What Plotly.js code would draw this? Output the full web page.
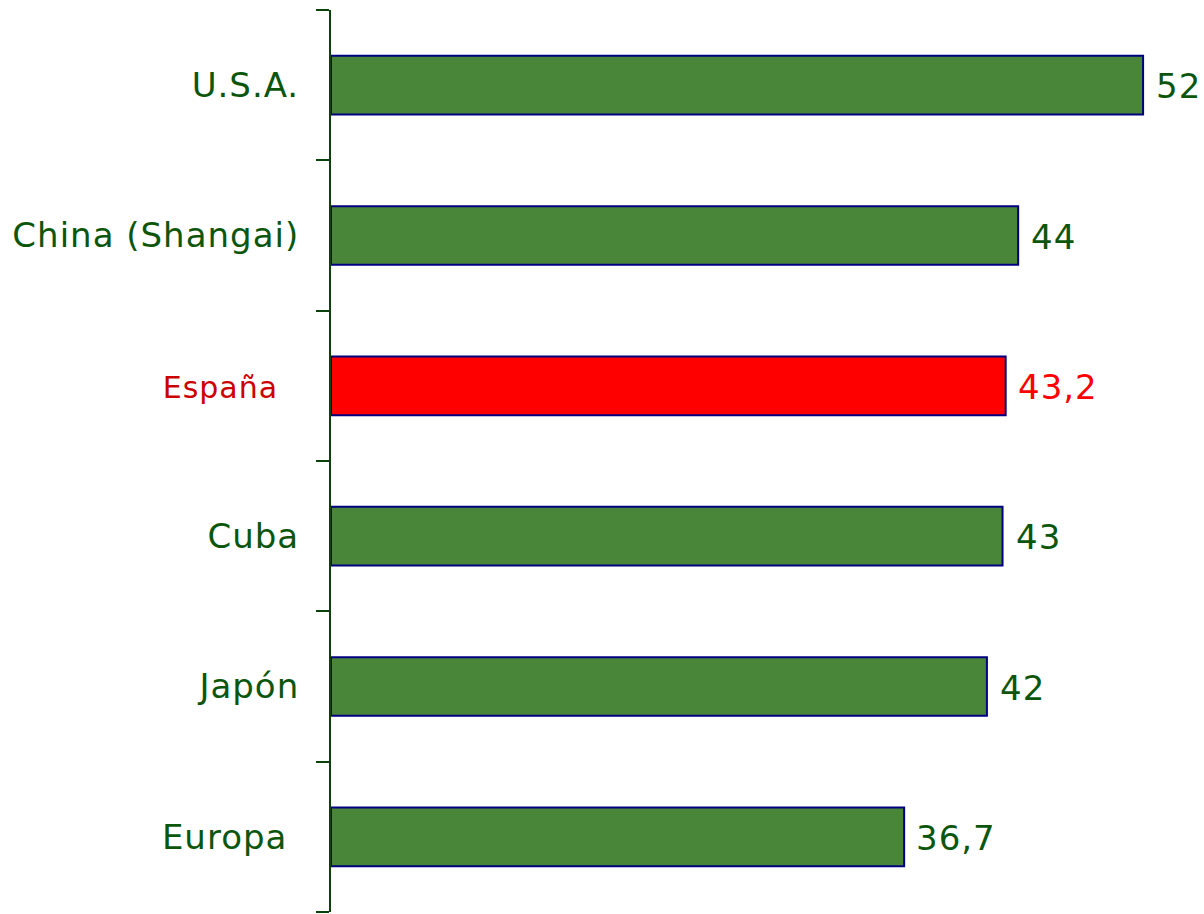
<!DOCTYPE html>
<html>
<head>
<meta charset="utf-8">
<script src="https://cdn.plot.ly/plotly-3.0.1.min.js"></script>
<style>
html,body{margin:0;padding:0;background:#fff;}
#chart{width:1204px;height:914px;}
#chart .ytick text, #chart .annotation-text{letter-spacing:1px;}
</style>
</head>
<body>
<div id="chart"></div>
<script>
var categories = ["U.S.A.", "China (Shangai)", "España", "Cuba", "Japón", "Europa"];
var values = [52, 44, 43.2, 43, 42, 36.7];
var valueLabels = ["52", "44", "43,2", "43", "42", "36,7"];
var highlight = "España";

var green = "#4a8639", red = "#ff0000", textGreen = "#0b560b", axisGreen = "#0a420a";

var fills = categories.map(function(c){ return c === highlight ? red : green; });
var tickText = categories.map(function(c){
  if (c === highlight) return '<span style="color:#cc0000;font-size:30px">' + c + '\u00a0\u00a0</span>';
  if (c === "Europa") return c + '\u00a0';
  return c;
});

var bars = {
  type: "bar", orientation: "h",
  y: categories, x: values,
  width: 0.39,
  marker: {color: fills, line: {color: "#000080", width: 2}},
  hoverinfo: "none"
};

var annotations = categories.map(function(c, i){
  return {
    x: values[i], y: c, xref: "x", yref: "y",
    text: valueLabels[i], showarrow: false,
    xanchor: "left", yanchor: "middle", xshift: 12, yshift: -1,
    font: {family: "DejaVu Sans, Verdana, sans-serif", size: 34, color: c === highlight ? red : textGreen}
  };
});

var layout = {
  width: 1204, height: 914,
  margin: {l: 331, r: 0, t: 10, b: 2},
  paper_bgcolor: "#fff", plot_bgcolor: "#fff",
  showlegend: false,
  bargap: 0.61,
  xaxis: {range: [0, 55.9], visible: false, fixedrange: true},
  yaxis: {
    type: "category", range: [5.5, -0.5],
    tickmode: "array", tickvals: categories, ticktext: tickText,
    tickson: "boundaries", ticks: "outside", ticklen: 13, tickwidth: 2, tickcolor: axisGreen,
    showline: true, linecolor: axisGreen, linewidth: 2,
    showgrid: false, zeroline: false,
    ticklabelstandoff: 23,
    tickfont: {family: "DejaVu Sans, Verdana, sans-serif", size: 34, color: textGreen}
  },
  annotations: annotations
};

Plotly.newPlot("chart", [bars], layout, {staticPlot: true});
</script>
</body>
</html>
